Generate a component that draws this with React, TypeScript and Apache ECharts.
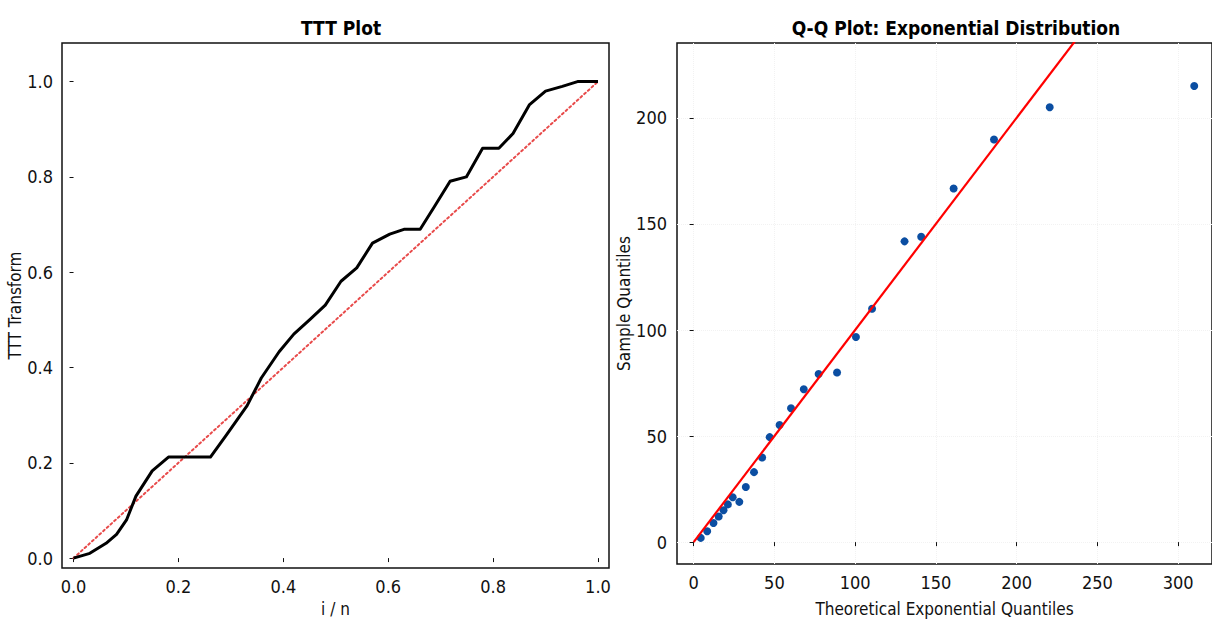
import React, { useEffect, useRef } from "react";
import * as echarts from "echarts";

// TTT plot data
const tttX = [0, 0.031, 0.062, 0.082, 0.101, 0.119, 0.15, 0.181, 0.261, 0.292, 0.331, 0.358, 0.392, 0.42, 0.451, 0.48, 0.51, 0.54, 0.57, 0.603, 0.63, 0.661, 0.69, 0.718, 0.749, 0.78, 0.811, 0.838, 0.869, 0.9, 0.932, 0.961, 1.0];
const tttY = [0, 0.01, 0.031, 0.05, 0.08, 0.13, 0.183, 0.212, 0.212, 0.259, 0.32, 0.378, 0.433, 0.47, 0.501, 0.531, 0.581, 0.609, 0.661, 0.68, 0.69, 0.69, 0.741, 0.791, 0.8, 0.86, 0.86, 0.891, 0.951, 0.98, 0.99, 1.0, 1.0];
const diagX = [0, 1];
const diagY = [0, 1];
const tttTicks = [0, 0.2, 0.4, 0.6, 0.8, 1.0];

// Q-Q plot data
const qqX = [4.4, 8.4, 12.3, 15.5, 18.5, 21.2, 24.2, 28.3, 32.3, 37.4, 42.4, 47.1, 53.2, 60.3, 68.2, 77.4, 88.8, 100.5, 110.5, 130.6, 140.9, 161, 186, 220.5, 310];
const qqY = [2.0, 5.1, 9.0, 12.1, 15.0, 17.8, 21.2, 19.0, 26.0, 33.0, 39.9, 49.5, 55.2, 63.1, 72.1, 79.3, 80, 96.7, 110, 141.8, 144, 166.7, 189.8, 205, 215];
const refX = [0, 250];
const refY = [0, 250];
const qqXTicks = [0, 50, 100, 150, 200, 250, 300];
const qqYTicks = [0, 50, 100, 150, 200];

const tickFont = "'DejaVu Sans Condensed', 'DejaVu Sans', sans-serif";
const titleFont = "'DejaVu Sans Condensed', 'DejaVu Sans', sans-serif";

export default function App() {
  const ref = useRef<HTMLDivElement>(null);
  useEffect(() => {
    if (!ref.current) return;
    const chart = echarts.init(ref.current, null, { renderer: "svg" });
    const zip = (a: number[], b: number[]) => a.map((v, i) => [v, b[i]]);
    const labelStyle = { color: "#111", fontFamily: tickFont, fontSize: 18 };
    const nameStyle = { color: "#111", fontFamily: tickFont, fontSize: 17 };
    const tick = { show: true, inside: false, length: 4, lineStyle: { color: "#111", width: 1 } };
    chart.setOption({
      animation: false,
      backgroundColor: "#fff",
      title: [
        {
          text: "TTT Plot",
          left: 336,
          top: 13,
          textAlign: "center",
          textStyle: { fontFamily: titleFont, fontWeight: "bold", fontSize: 19, color: "#000" },
        },
        {
          text: "Q-Q Plot: Exponential Distribution",
          left: 951,
          top: 13,
          textAlign: "center",
          textStyle: { fontFamily: titleFont, fontWeight: "bold", fontSize: 19, color: "#000" },
        },
      ],
      grid: [
        { left: 62, top: 43, width: 547, height: 526, show: true, borderColor: "#111", borderWidth: 1.5, backgroundColor: "transparent" },
        { left: 677, top: 43, right: -13, height: 526, show: true, borderColor: "#111", borderWidth: 1.5, backgroundColor: "transparent" },
      ],
      xAxis: [
        {
          type: "value",
          gridIndex: 0,
          min: -0.022,
          max: 1.021,
          axisLine: { show: false },
          axisTick: { ...tick, customValues: tttTicks },
          axisLabel: { ...labelStyle, margin: 9, customValues: tttTicks, formatter: (v: number) => v.toFixed(1) },
          splitLine: { show: false },
          name: "i / n",
          nameLocation: "middle",
          nameGap: 31,
          nameTextStyle: nameStyle,
        },
        {
          type: "value",
          gridIndex: 1,
          min: -10.3,
          max: 321,
          axisLine: { show: false },
          axisTick: { ...tick, customValues: qqXTicks },
          axisLabel: { ...labelStyle, margin: 9, customValues: qqXTicks, formatter: (v: number) => String(v) },
          splitLine: { show: true, lineStyle: { color: "#f2f2f2", type: "dotted", width: 1 } },
          name: "Theoretical Exponential Quantiles",
          nameLocation: "middle",
          nameGap: 36,
          nameTextStyle: nameStyle,
        },
      ],
      yAxis: [
        {
          type: "value",
          gridIndex: 0,
          min: -0.021,
          max: 1.081,
          axisLine: { show: false },
          axisTick: { ...tick, customValues: tttTicks },
          axisLabel: { ...labelStyle, margin: 9, customValues: tttTicks, formatter: (v: number) => v.toFixed(1) },
          splitLine: { show: false },
          name: "TTT Transform",
          nameLocation: "middle",
          nameGap: 38,
          nameTextStyle: nameStyle,
        },
        {
          type: "value",
          gridIndex: 1,
          min: -10.3,
          max: 235.3,
          axisLine: { show: false },
          axisTick: { ...tick, customValues: qqYTicks },
          axisLabel: { ...labelStyle, margin: 10, customValues: qqYTicks, formatter: (v: number) => String(v) },
          splitLine: { show: true, lineStyle: { color: "#f2f2f2", type: "dotted", width: 1 } },
          name: "Sample Quantiles",
          nameLocation: "middle",
          nameGap: 45,
          nameTextStyle: nameStyle,
        },
      ],
      series: [
        {
          type: "line",
          xAxisIndex: 0,
          yAxisIndex: 0,
          data: zip(diagX, diagY),
          showSymbol: false,
          lineStyle: { color: "#e84a4a", width: 2, type: [2, 3], cap: "round" },
          z: 2,
        },
        {
          type: "line",
          xAxisIndex: 0,
          yAxisIndex: 0,
          data: zip(tttX, tttY),
          showSymbol: false,
          lineStyle: { color: "#000", width: 3, join: "round" },
          z: 3,
        },
        {
          type: "scatter",
          xAxisIndex: 1,
          yAxisIndex: 1,
          data: zip(qqX, qqY),
          symbolSize: 8,
          itemStyle: { color: "#0b4ea2", opacity: 1 },
          z: 3,
        },
        {
          type: "line",
          xAxisIndex: 1,
          yAxisIndex: 1,
          data: zip(refX, refY),
          showSymbol: false,
          clip: true,
          lineStyle: { color: "#ff0000", width: 2.2 },
          z: 4,
        },
      ],
    });
    return () => chart.dispose();
  }, []);
  return <div ref={ref} style={{ position: "fixed", left: 0, top: 0, width: 1212, height: 622 }} />;
}
